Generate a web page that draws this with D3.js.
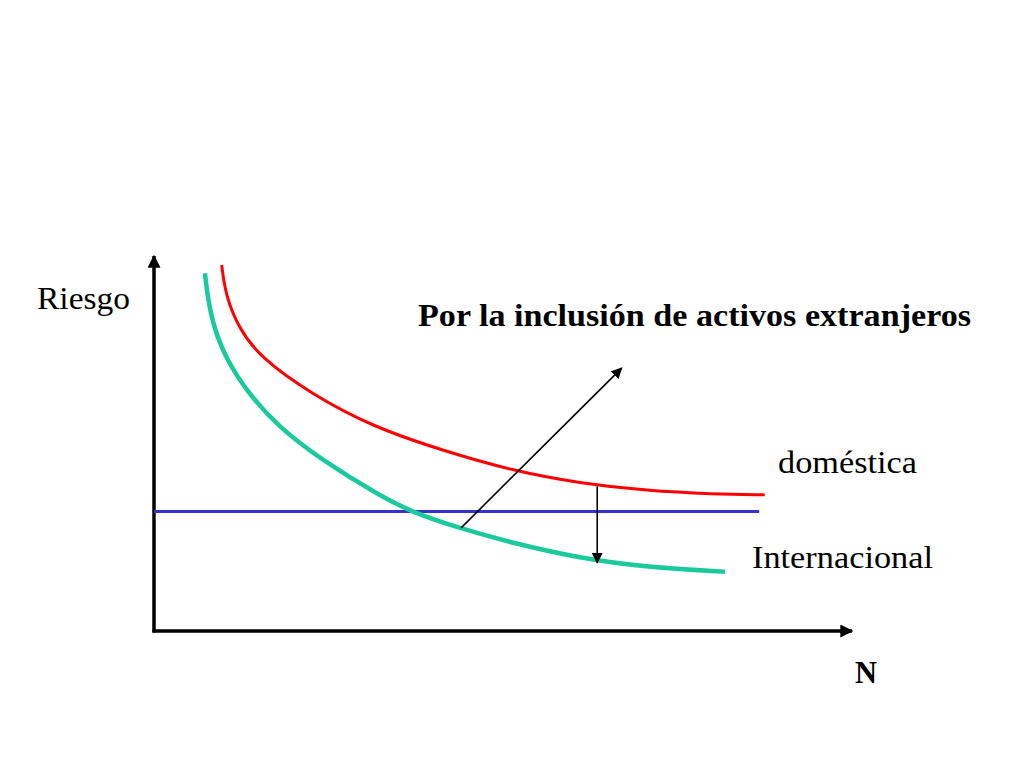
<!DOCTYPE html>
<html>
<head>
<meta charset="utf-8">
<script src="https://cdn.jsdelivr.net/npm/d3@7"></script>
<style>
  html, body { margin: 0; padding: 0; background: #fff; }
  svg { display: block; }
  text { font-family: "Liberation Serif", "Times New Roman", Times, serif; fill: #000; }
</style>
</head>
<body>
<svg id="chart" width="1024" height="768"></svg>
<script>
// N (number of assets) vs risk
const domesticN = [9.7, 10.2, 12.0, 15.3, 22.4, 31.2, 41.9, 51.5, 61.0, 70.6, 80.1, 87.5];
const domesticRisk = [97.6, 90.1, 81.1, 72.8, 63.4, 54.5, 47.8, 42.7, 39.4, 37.4, 36.5, 36.3];

const intlN = [7.3, 7.6, 8.5, 10.4, 13.5, 17.8, 24.0, 32.4, 37.2, 43.8, 51.5, 61.0, 70.6, 81.8];
const intlRisk = [95.4, 90.1, 81.1, 72.3, 63.4, 54.5, 45.6, 36.0, 31.5, 27.4, 23.4, 19.4, 17.0, 15.8];

const systematicN = [0, 86.7];
const systematicRisk = [31.9, 31.9];

// annotation arrows: [N0, risk0, N1, risk1]
const shiftArrow = [44.0, 27.5, 67.0, 70.1];
const gapArrow = [63.5, 38.6, 63.5, 18.2];

const svg = d3.select("#chart");

const x = d3.scaleLinear().domain([0, 100]).range([154, 852]);
const y = d3.scaleLinear().domain([0, 100]).range([631, 256]);

const zip = (xs, ys) => xs.map((v, i) => [v, ys[i]]);

const line = d3.line()
  .x((d) => x(d[0]))
  .y((d) => y(d[1]))
  .curve(d3.curveBasis);

// arrow heads
const defs = svg.append("defs");
function marker(id, size) {
  defs.append("marker")
    .attr("id", id)
    .attr("viewBox", "0 0 10 10")
    .attr("refX", 9)
    .attr("refY", 5)
    .attr("markerWidth", size)
    .attr("markerHeight", size)
    .attr("markerUnits", "userSpaceOnUse")
    .attr("orient", "auto")
    .append("path")
    .attr("d", "M0,0 L10,5 L0,10 Z")
    .attr("fill", "#000");
}
marker("axisHead", 13);
marker("thinHead", 11);

// axes
svg.append("line")
  .attr("x1", x(0)).attr("y1", y(0) + 1.5)
  .attr("x2", x(0)).attr("y2", y(100))
  .attr("stroke", "#000").attr("stroke-width", 3.5)
  .attr("marker-end", "url(#axisHead)");

svg.append("line")
  .attr("x1", x(0) - 1.5).attr("y1", y(0))
  .attr("x2", x(100)).attr("y2", y(0))
  .attr("stroke", "#000").attr("stroke-width", 3.5)
  .attr("marker-end", "url(#axisHead)");

// curves
svg.append("path")
  .datum(zip(systematicN, systematicRisk))
  .attr("d", d3.line().x((d) => x(d[0])).y((d) => y(d[1])))
  .attr("fill", "none").attr("stroke", "#3333cc").attr("stroke-width", 3);

svg.append("path")
  .datum(zip(domesticN, domesticRisk))
  .attr("d", line)
  .attr("fill", "none").attr("stroke", "#ff0000").attr("stroke-width", 3);

svg.append("path")
  .datum(zip(intlN, intlRisk))
  .attr("d", line)
  .attr("fill", "none").attr("stroke", "#1ac99c").attr("stroke-width", 4.5);

// annotation arrows
[shiftArrow, gapArrow].forEach((a) => {
  svg.append("line")
    .attr("x1", x(a[0])).attr("y1", y(a[1]))
    .attr("x2", x(a[2])).attr("y2", y(a[3]))
    .attr("stroke", "#000").attr("stroke-width", 1.6)
    .attr("marker-end", "url(#thinHead)");
});

// labels
const labels = [
  { text: "Riesgo", x: 37, y: 309, w: 93, bold: false },
  { text: "Por la inclusión de activos extranjeros", x: 418, y: 326, w: 553, bold: true },
  { text: "doméstica", x: 778, y: 473, w: 139, bold: false },
  { text: "Internacional", x: 752, y: 568, w: 181, bold: false },
  { text: "N", x: 855, y: 683, w: 22, bold: true },
];

svg.selectAll("text.lbl")
  .data(labels)
  .join("text")
  .attr("class", "lbl")
  .attr("x", (d) => d.x)
  .attr("y", (d) => d.y)
  .attr("font-size", 31)
  .attr("font-weight", (d) => (d.bold ? "bold" : "normal"))
  .attr("textLength", (d) => d.w)
  .attr("lengthAdjust", "spacingAndGlyphs")
  .text((d) => d.text);
</script>
</body>
</html>
